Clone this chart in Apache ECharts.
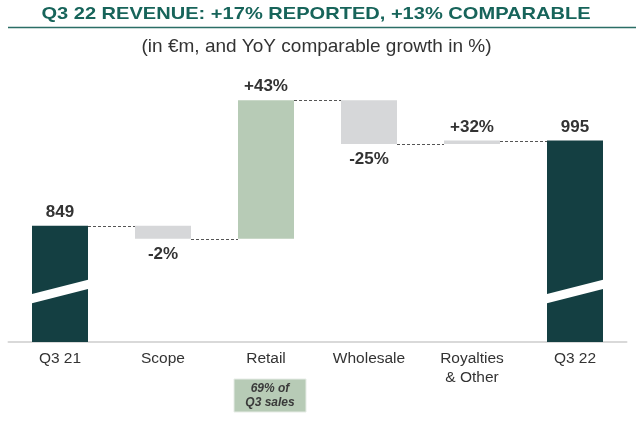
<!DOCTYPE html>
<html>
<head>
<meta charset="utf-8">
<script src="https://cdn.jsdelivr.net/npm/echarts@6/dist/echarts.min.js"></script>
<style>html,body{margin:0;padding:0;background:#fff}#c{width:640px;height:422px}</style>
</head>
<body>
<div id="c"></div>
<script>
// ---- data ----
var categories = ['Q3 21', 'Scope', 'Retail', 'Wholesale', 'Royalties\n& Other', 'Q3 22'];
var startTotal = 849;
var endTotal = 995;
var deltas = [-22, 237, -75, 6];          // Scope, Retail, Wholesale, Royalties & Other (in €m)
var growthLabels = ['-2%', '+43%', '-25%', '+32%'];
var noteText = '69% of\nQ3 sales';

// ---- derived waterfall series ----
var running = [startTotal];
deltas.forEach(function (d) { running.push(running[running.length - 1] + d); });
var baseData = [0], visData = [startTotal], colors = ['#143f42'];
deltas.forEach(function (d, i) {
  var a = running[i], b = running[i + 1];
  baseData.push(Math.min(a, b));
  visData.push(Math.abs(d));
  colors.push(i === 1 ? '#b7cbb6' : '#d6d7d9');
});
baseData.push(0); visData.push(endTotal); colors.push('#143f42');
var labelTexts = [String(startTotal)].concat(growthLabels).concat([String(endTotal)]);
var labelPos = ['top'].concat(deltas.map(function (d) { return d < 0 ? 'bottom' : 'top'; })).concat(['top']);
var connectorLevels = running.slice(); // level after each of bars 0..4

var BAR_W = 56;
var chart = echarts.init(document.getElementById('c'), null, {renderer: 'canvas'});
var FF = '"Liberation Sans", Arial, sans-serif';
var labelStyle = {fontFamily: FF, fontWeight: 'bold', fontSize: 17, color: '#333'};

chart.setOption({
  animation: false,
  grid: {left: 8.5, right: 13.5, top: 50, bottom: 80},
  xAxis: {
    type: 'category', data: categories,
    axisLine: {lineStyle: {color: '#d9d9d9', width: 2}},
    axisTick: {show: false},
    axisLabel: {color: '#333', fontSize: 15.5, fontFamily: FF, margin: 7, lineHeight: 19, interval: 0}
  },
  yAxis: {type: 'value', min: 650, max: 1150, show: false, splitLine: {show: false}},
  series: [
    {type: 'bar', stack: 'w', barWidth: BAR_W, data: baseData, itemStyle: {color: 'transparent'}, silent: true},
    {type: 'bar', stack: 'w', barWidth: BAR_W,
      data: visData.map(function (v, i) {
        return {value: v, itemStyle: {color: colors[i]},
          label: {show: true, position: labelPos[i], distance: labelPos[i] === 'top' ? 5 : 7,
            formatter: labelTexts[i]}};
      }),
      label: labelStyle
    },
    {type: 'custom', silent: true, z: 5,
      data: connectorLevels.slice(0, 5).map(function (v, i) { return [i, v]; }),
      renderItem: function (params, api) {
        var i = api.value(0), v = api.value(1);
        var p1 = api.coord([i, v]), p2 = api.coord([i + 1, v]);
        var y = Math.round(p1[1]) + 0.5;
        return {type: 'line', shape: {x1: p1[0] + BAR_W / 2, y1: y, x2: p2[0] - BAR_W / 2, y2: y},
          style: {stroke: '#555', lineWidth: 1, lineDash: [3, 2]}};
      }
    },
    {type: 'custom', silent: true, z: 6,
      data: [[0, 724, 749], [5, 724, 749]],
      renderItem: function (params, api) {
        var i = api.value(0);
        var l = api.coord([i, api.value(1)]), r = api.coord([i, api.value(2)]);
        var x0 = l[0] - BAR_W / 2 - 1, x1 = l[0] + BAR_W / 2 + 1, h = 4.6;
        return {type: 'polygon', shape: {points: [[x0, l[1] - h], [x1, r[1] - h], [x1, r[1] + h], [x0, l[1] + h]]},
          style: {fill: '#fff'}};
      }
    }
  ],
  graphic: [
    {type: 'text', x: 316, y: 14.5, scaleX: 1.18, style: {text: 'Q3 22 REVENUE: +17% REPORTED, +13% COMPARABLE',
      font: 'bold 17px ' + FF, fill: '#17645a', align: 'center', verticalAlign: 'middle'}},
    {type: 'line', shape: {x1: 8, y1: 27.5, x2: 636, y2: 27.5}, style: {stroke: '#2b6e66', lineWidth: 1.5}},
    {type: 'text', x: 316.5, y: 46.5, style: {text: '(in €m, and YoY comparable growth in %)',
      font: '19px ' + FF, fill: '#333', align: 'center', verticalAlign: 'middle'}},
    {type: 'rect', shape: {x: 234, y: 379, width: 72, height: 33}, style: {fill: '#b7cbb6', stroke: '#e6ece6', lineWidth: 1}},
    {type: 'text', x: 270, y: 395.5, style: {text: noteText, font: 'italic bold 12px ' + FF,
      fill: '#3a3a3a', align: 'center', verticalAlign: 'middle', lineHeight: 14}}
  ]
});
</script>
</body>
</html>
